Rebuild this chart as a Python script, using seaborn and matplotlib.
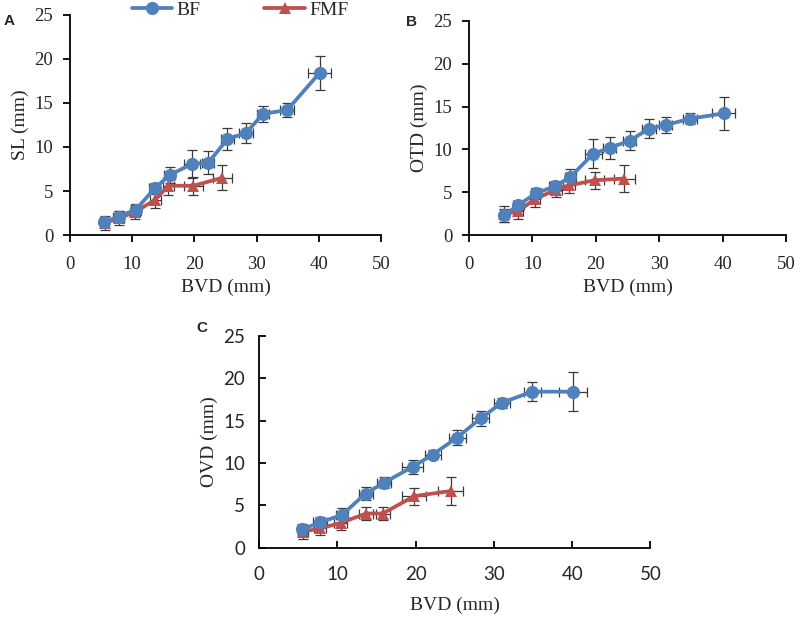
"""
Bone / vessel diameters versus BVD for BF and FMF groups (panels A, B, C).
"""

import pandas as pd
import matplotlib
matplotlib.use("Agg")
import matplotlib.pyplot as plt
import seaborn as sns

# x values (BVD, mm) and their error bars
bvd_bf = [5.5, 7.8, 10.6, 13.6, 16.0, 19.6, 22.2, 25.3, 28.3, 31.0, 34.9, 40.1]
bvd_bf_err = [0.6, 0.9, 0.8, 0.9, 0.9, 1.3, 1.0, 1.1, 1.1, 1.0, 1.1, 1.8]
bvd_fmf = [5.6, 7.8, 10.4, 13.7, 15.8, 19.8, 24.5]
bvd_fmf_err = [0.6, 0.8, 0.8, 0.9, 0.9, 1.5, 1.6]

# panel A: SL
sl_bf = [1.5, 2.1, 2.9, 5.3, 6.8, 8.1, 8.2, 10.9, 11.6, 13.75, 14.2, 18.4]
sl_bf_err = [0.4, 0.6, 0.6, 0.6, 0.9, 1.6, 1.3, 1.2, 1.1, 0.9, 0.8, 1.9]
sl_fmf = [1.4, 1.9, 2.6, 4.0, 5.6, 5.6, 6.5]
sl_fmf_err = [0.8, 0.8, 0.8, 0.9, 1.0, 1.0, 1.4]

# panel B: OTD
otd_bf = [2.3, 3.5, 4.9, 5.7, 6.8, 9.5, 10.2, 11.0, 12.4, 12.85, 13.6, 14.2]
otd_bf_err = [0.8, 0.5, 0.6, 0.6, 0.9, 1.7, 1.3, 1.1, 1.1, 0.9, 0.6, 1.9]
otd_fmf = [2.45, 2.8, 4.2, 5.3, 5.8, 6.4, 6.6]
otd_fmf_err = [0.9, 0.9, 0.9, 0.9, 0.9, 1.0, 1.6]

# panel C: OVD
ovd_bf = [2.2, 3.0, 3.9, 6.4, 7.7, 9.55, 11.0, 13.0, 15.25, 17.1, 18.4, 18.4]
ovd_bf_err = [0.6, 0.6, 0.8, 0.8, 0.6, 0.8, 0.5, 0.9, 0.9, 0.6, 1.1, 2.3]
ovd_fmf = [1.9, 2.3, 2.95, 4.05, 4.05, 6.1, 6.7]
ovd_fmf_err = [0.8, 0.8, 0.9, 0.8, 0.8, 1.0, 1.6]

BLUE = "#4F81BD"
RED = "#C0504D"
SERIF = ["Liberation Serif", "DejaVu Serif"]
SANS = ["Lato", "DejaVu Sans"]


def draw_panel(ax, bf, bf_err, fmf, fmf_err, ylabel, tick_font,
               tick_dir="out", xlabel_pad=4):
    """Draw one panel: two lines with x and y error bars."""
    df_bf = pd.DataFrame({"x": bvd_bf, "y": bf})
    df_fmf = pd.DataFrame({"x": bvd_fmf, "y": fmf})

    ax.errorbar(bvd_bf, bf, xerr=bvd_bf_err, yerr=bf_err, fmt="none",
                ecolor="#3a3a3a", elinewidth=0.9, capsize=3.5, capthick=0.9, zorder=1)
    ax.errorbar(bvd_fmf, fmf, xerr=bvd_fmf_err, yerr=fmf_err, fmt="none",
                ecolor="#3a3a3a", elinewidth=0.9, capsize=3.5, capthick=0.9, zorder=1)

    sns.lineplot(data=df_bf, x="x", y="y", ax=ax, color=BLUE, marker="o",
                 markersize=9.5, markeredgewidth=0, linewidth=2.7,
                 sort=False, label="BF", zorder=3)
    sns.lineplot(data=df_fmf, x="x", y="y", ax=ax, color=RED, marker="^",
                 markersize=8.5, markeredgewidth=0, linewidth=2.7,
                 sort=False, label="FMF", zorder=2)

    ax.set_xlim(0, 50)
    ax.set_ylim(0, 25)
    ax.set_xticks(range(0, 51, 10))
    ax.set_yticks(range(0, 26, 5))
    ax.set_xlabel("BVD (mm)", family=SERIF, fontsize=14, labelpad=xlabel_pad)
    ax.set_ylabel(ylabel, family=SERIF, fontsize=14, labelpad=4)
    for lab in ax.get_xticklabels() + ax.get_yticklabels():
        lab.set_family(tick_font)
        lab.set_fontsize(13.5)

    ax.spines["top"].set_visible(False)
    ax.spines["right"].set_visible(False)
    for side in ("left", "bottom"):
        ax.spines[side].set_color("black")
        ax.spines[side].set_linewidth(1.3)
    ax.tick_params(direction=tick_dir, length=5, width=1.3, color="black")
    ax.tick_params(axis="x", pad=10 if tick_dir == "out" else 13)
    ax.tick_params(axis="y", pad=7 if tick_dir == "out" else 10)
    ax.get_legend().remove()


def main() -> None:
    sns.set_theme(style="ticks")
    plt.rcParams["font.family"] = ["Liberation Sans", "DejaVu Sans"]

    fig = plt.figure(figsize=(8, 6.17), dpi=100)
    ax_a = fig.add_axes([0.0875, 0.619, 0.389, 0.357])
    ax_b = fig.add_axes([0.586, 0.619, 0.397, 0.347])
    ax_c = fig.add_axes([0.324, 0.112, 0.489, 0.344])

    draw_panel(ax_a, sl_bf, sl_bf_err, sl_fmf, sl_fmf_err, "SL (mm)", SERIF)
    draw_panel(ax_b, otd_bf, otd_bf_err, otd_fmf, otd_fmf_err, "OTD (mm)", SERIF)
    draw_panel(ax_c, ovd_bf, ovd_bf_err, ovd_fmf, ovd_fmf_err, "OVD (mm)",
               SANS, tick_dir="in", xlabel_pad=10)

    # shared legend at the top
    handles, labels = ax_a.get_legend_handles_labels()
    fig.legend(handles[:2], labels[:2], loc="center", bbox_to_anchor=(0.3, 0.983),
               ncol=2, frameon=False, prop={"family": SERIF, "size": 14},
               columnspacing=3.3, handlelength=2.1, handletextpad=0.2)

    # panel letters
    fig.text(0.004, 0.959, "A", fontsize=11, fontweight="bold")
    fig.text(0.507, 0.958, "B", fontsize=11, fontweight="bold")
    fig.text(0.245, 0.462, "C", fontsize=11, fontweight="bold")

    fig.savefig("out.png", dpi=100)


if __name__ == "__main__":
    main()
